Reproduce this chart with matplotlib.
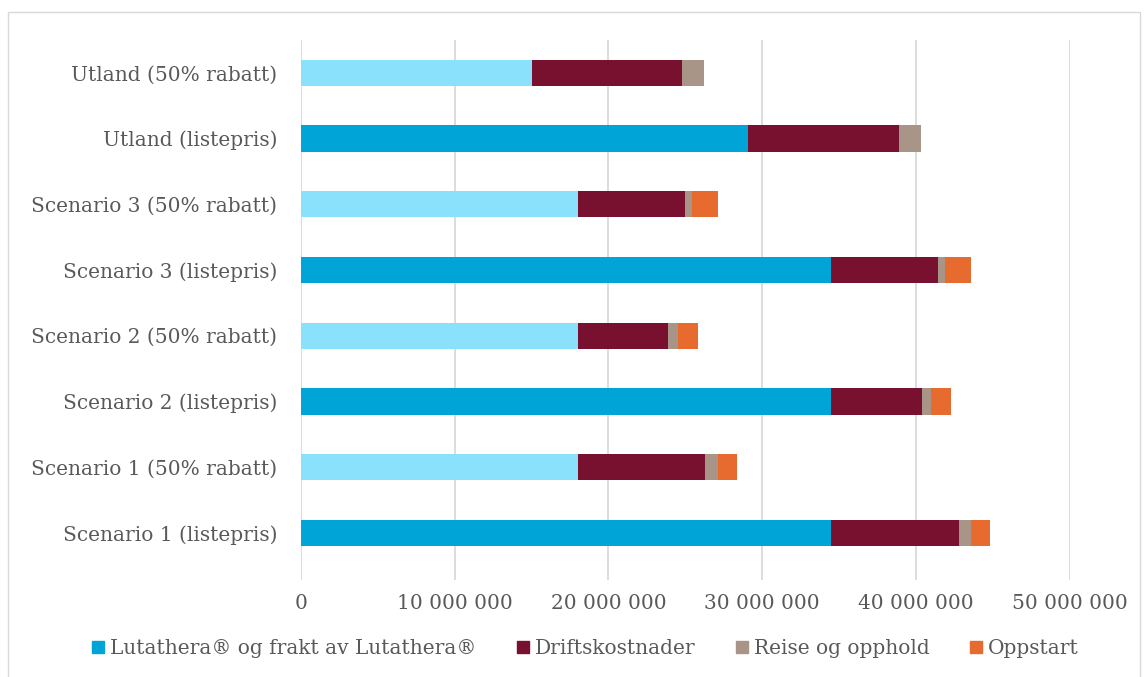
import matplotlib
matplotlib.use('Agg')
import matplotlib.pyplot as plt
from matplotlib.patches import Rectangle, Patch

# Kategorier, nederst først
kategorier = ['Scenario 1 (listepris)', 'Scenario 1 (50% rabatt)',
              'Scenario 2 (listepris)', 'Scenario 2 (50% rabatt)',
              'Scenario 3 (listepris)', 'Scenario 3 (50% rabatt)',
              'Utland (listepris)', 'Utland (50% rabatt)']

lutathera = [34500000, 18000000, 34500000, 18000000, 34500000, 18000000, 29100000, 15000000]
drift = [8300000, 8300000, 5900000, 5900000, 6900000, 7000000, 9800000, 9800000]
reise = [750000, 800000, 600000, 650000, 450000, 450000, 1400000, 1400000]
oppstart = [1250000, 1250000, 1300000, 1300000, 1700000, 1700000, 0, 0]

xticks = [0, 10000000, 20000000, 30000000, 40000000, 50000000]
serier = ['Lutathera® og frakt av Lutathera®', 'Driftskostnader',
          'Reise og opphold', 'Oppstart']

blaa = '#00A4D6'
lysblaa = '#8AE1FB'
farger = ['#78102F', '#A89588', '#E76A2F']
tekst = '#595959'

plt.rcParams['font.family'] = ['DejaVu Serif']

fig = plt.figure(figsize=(11.48, 6.77), dpi=100)
ax = fig.add_axes([0.262, 0.143, 0.670, 0.798])

y = list(range(len(kategorier)))
h = 0.4
# annenhver rad har rabatt -> lys blå
blaafarger = [blaa if 'listepris' in k else lysblaa for k in kategorier]
ax.barh(y, lutathera, height=h, color=blaafarger, zorder=3)
venstre = list(lutathera)
for verdier, farge in zip([drift, reise, oppstart], farger):
    ax.barh(y, verdier, left=venstre, height=h, color=farge, zorder=3)
    venstre = [a + b for a, b in zip(venstre, verdier)]

ax.set_xlim(0, 50000000)
ax.set_ylim(-0.72, 7.5)
ax.set_yticks(y)
ax.set_yticklabels(kategorier)
ax.set_xticks(xticks)
ax.set_xticklabels([f'{v:,}'.replace(',', ' ') for v in xticks])
ax.tick_params(axis='both', length=0, labelsize=14.5, colors=tekst)
ax.tick_params(axis='y', pad=17)
ax.tick_params(axis='x', pad=10)
ax.xaxis.grid(True, color='#D9D9D9', linewidth=1.3, zorder=0)
for s in ax.spines.values():
    s.set_visible(False)

handles = [Patch(color=blaa)] + [Patch(color=f) for f in farger]
fig.legend(handles, serier, loc='center', bbox_to_anchor=(0.51, 0.042), ncol=4,
           frameon=False, fontsize=14.5, labelcolor=tekst, handlelength=0.6,
           handleheight=0.6, handletextpad=0.3, columnspacing=2.0)

fig.patches.append(Rectangle((0.007, -0.01), 0.986, 0.992, transform=fig.transFigure,
                             fill=False, edgecolor='#D9D9D9', linewidth=1))

fig.savefig('out.png', dpi=100)
